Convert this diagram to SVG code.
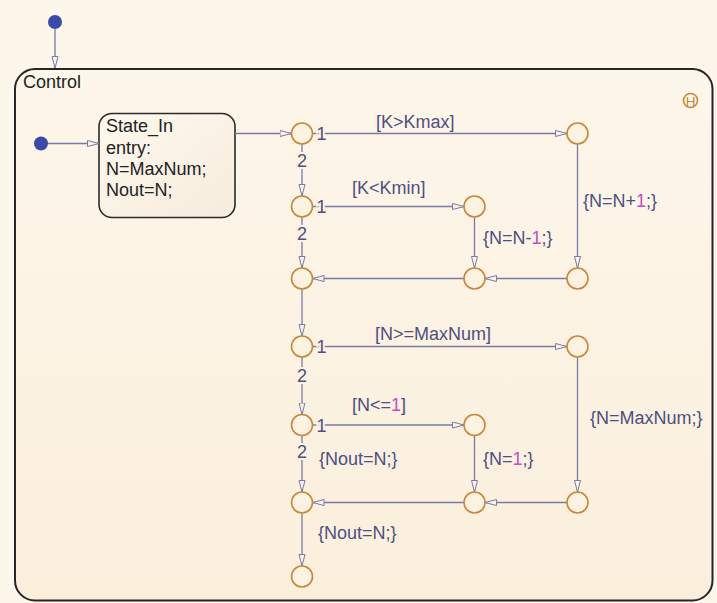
<svg xmlns="http://www.w3.org/2000/svg" width="717" height="603" viewBox="0 0 717 603">
<defs>
<linearGradient id="bg" x1="0" y1="0" x2="0" y2="1">
<stop offset="0" stop-color="#fdf6ea"/>
<stop offset="1" stop-color="#fbefdc"/>
</linearGradient>
<linearGradient id="stfill" x1="0" y1="0" x2="1" y2="1">
<stop offset="0" stop-color="#fdf8ef"/>
<stop offset="1" stop-color="#f7ecdc"/>
</linearGradient>
<marker id="arr" markerUnits="userSpaceOnUse" markerWidth="14" markerHeight="8" refX="12" refY="3.5" orient="auto">
<path d="M0.5,0.5 L12,3.5 L0.5,6.5 Z" fill="#f8f2ea" stroke="#7a7aa6" stroke-width="1"/>
</marker>
<style>
.ln{fill:none;stroke:#7a7aa6;stroke-width:1.3;marker-end:url(#arr)}
.jn{fill:#fcf2e1;stroke:#c8883a;stroke-width:1.6}
.lb{font-family:"Liberation Sans",Arial,sans-serif;font-size:18px;fill:#4f4f82}
.num{font-family:"Liberation Sans",Arial,sans-serif;font-size:18px;fill:#4f4f82;stroke:#fcf2e1;stroke-width:4;paint-order:stroke}
.mg{fill:#c24fc2}
.st{font-family:"Liberation Sans",Arial,sans-serif;font-size:18px;fill:#222222}
.dot{fill:#3b49a8}
</style>
</defs>
<rect x="0" y="0" width="717" height="603" fill="#fdf6ea"/>

<g id="control">
<rect x="15" y="69" width="697.5" height="531.5" rx="20" ry="20" fill="url(#bg)" stroke="#262626" stroke-width="2"/>
<text class="st" x="23" y="88">Control</text>
</g>

<g id="history">
<circle cx="690.5" cy="100.5" r="7" fill="none" stroke="#c8883a" stroke-width="1.6"/>
<text x="690.5" y="105.5" text-anchor="middle" font-family="Liberation Sans,Arial,sans-serif" font-size="13.5" fill="#c8883a">H</text>
</g>

<g id="state_in">
<rect x="99" y="113.5" width="136" height="104" rx="13" ry="13" fill="url(#stfill)" stroke="#2b2b2b" stroke-width="1.6"/>
<text class="st" x="106" y="132">State_In</text>
<text class="st" x="106" y="153.5">entry:</text>
<text class="st" x="106" y="175">N=MaxNum;</text>
<text class="st" x="106" y="196">Nout=N;</text>
</g>

<g id="defaults">
<circle class="dot" cx="55" cy="22" r="7"/>
<circle class="dot" cx="41" cy="143.5" r="7"/>
</g>

<g id="connectors">
<path class="ln" d="M55,29 V68"/>
<path class="ln" d="M48,143.5 H99"/>
<path class="ln" d="M235,133.5 H291.5"/>
<path class="ln" d="M312.5,133.5 H567"/>
<path class="ln" d="M302,144 V196"/>
<path class="ln" d="M312.5,206.5 H464"/>
<path class="ln" d="M302,217 V268"/>
<path class="ln" d="M474.5,217 V268"/>
<path class="ln" d="M577.5,144 V268"/>
<path class="ln" d="M567,278.5 H485"/>
<path class="ln" d="M464,278.5 H312.5"/>
<path class="ln" d="M302,289 V336"/>
<path class="ln" d="M312.5,346.5 H567"/>
<path class="ln" d="M302,357 V414.5"/>
<path class="ln" d="M312.5,425 H464"/>
<path class="ln" d="M302,435.5 V492"/>
<path class="ln" d="M474.5,435.5 V492"/>
<path class="ln" d="M577.5,357 V492"/>
<path class="ln" d="M567,502.5 H485"/>
<path class="ln" d="M464,502.5 H312.5"/>
<path class="ln" d="M302,513 V566"/>
</g>

<g id="junctions">
<circle class="jn" id="J1" cx="302" cy="133.5" r="10.5"/>
<circle class="jn" id="J2" cx="302" cy="206.5" r="10.5"/>
<circle class="jn" id="J3" cx="302" cy="278.5" r="10.5"/>
<circle class="jn" id="J4" cx="302" cy="346.5" r="10.5"/>
<circle class="jn" id="J5" cx="302" cy="425" r="10.5"/>
<circle class="jn" id="J6" cx="302" cy="502.5" r="10.5"/>
<circle class="jn" id="J7" cx="302" cy="576.5" r="10.5"/>
<circle class="jn" id="B1" cx="474.5" cy="206.5" r="10.5"/>
<circle class="jn" id="B2" cx="474.5" cy="278.5" r="10.5"/>
<circle class="jn" id="B3" cx="474.5" cy="425" r="10.5"/>
<circle class="jn" id="B4" cx="474.5" cy="502.5" r="10.5"/>
<circle class="jn" id="C1" cx="577.5" cy="133.5" r="10.5"/>
<circle class="jn" id="C2" cx="577.5" cy="278.5" r="10.5"/>
<circle class="jn" id="C3" cx="577.5" cy="346.5" r="10.5"/>
<circle class="jn" id="C4" cx="577.5" cy="502.5" r="10.5"/>
</g>

<g id="labels">
<text class="num" x="316.5" y="140">1</text>
<text class="num" x="302" y="166.5" text-anchor="middle">2</text>
<text class="num" x="316.5" y="213">1</text>
<text class="num" x="302" y="240" text-anchor="middle">2</text>
<text class="num" x="316.5" y="353">1</text>
<text class="num" x="302" y="381.5" text-anchor="middle">2</text>
<text class="num" x="316.5" y="431.5">1</text>
<text class="num" x="302" y="458" text-anchor="middle">2</text>
<text class="lb" x="376" y="128">[K&gt;Kmax]</text>
<text class="lb" x="352" y="194">[K&lt;Kmin]</text>
<text class="lb" x="583" y="207">{N=N+<tspan class="mg">1</tspan>;}</text>
<text class="lb" x="483" y="244">{N=N-<tspan class="mg">1</tspan>;}</text>
<text class="lb" x="375" y="340">[N&gt;=MaxNum]</text>
<text class="lb" x="352" y="411">[N&lt;=<tspan class="mg">1</tspan>]</text>
<text class="lb" x="590" y="424">{N=MaxNum;}</text>
<text class="lb" x="319" y="465">{Nout=N;}</text>
<text class="lb" x="483" y="465">{N=<tspan class="mg">1</tspan>;}</text>
<text class="lb" x="318" y="538.5">{Nout=N;}</text>
</g>
</svg>
